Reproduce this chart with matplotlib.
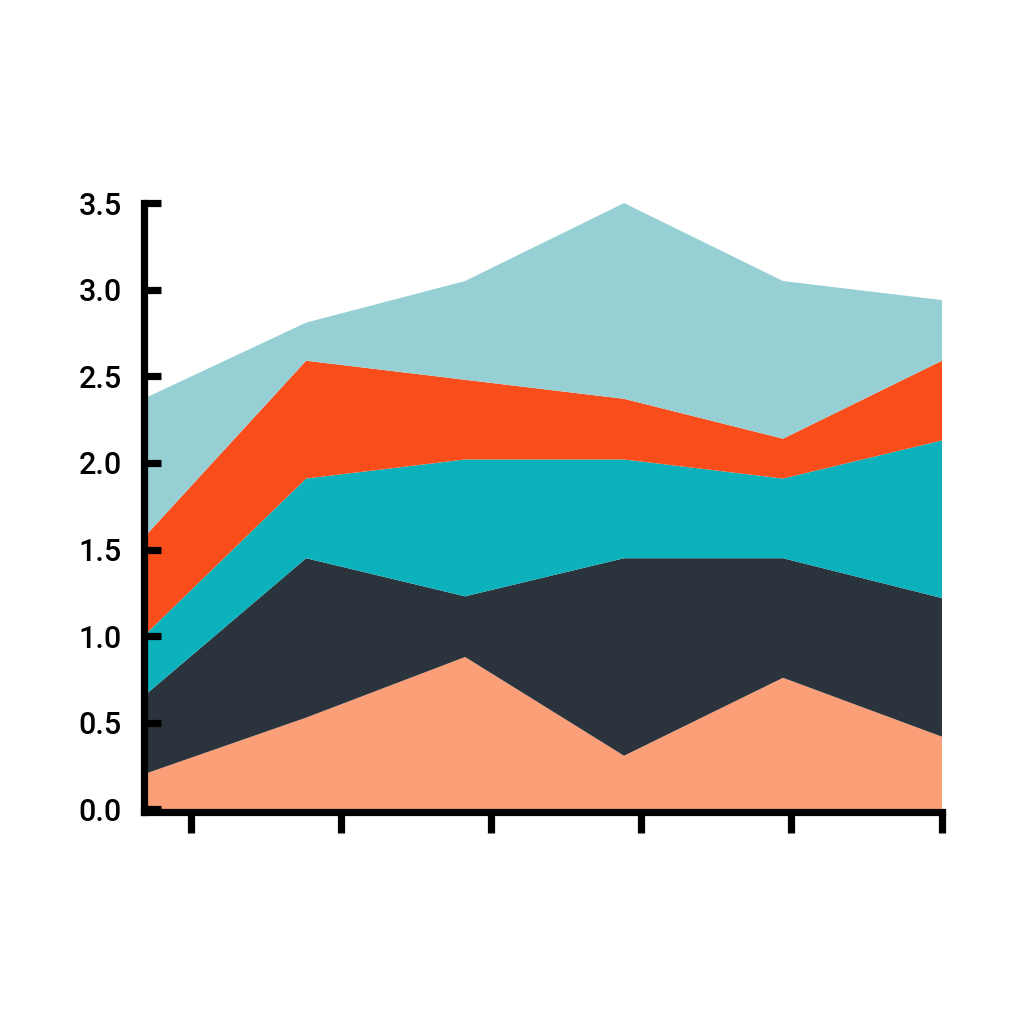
import matplotlib
matplotlib.use("Agg")
import matplotlib.pyplot as plt

# Data (stacked increments for each layer, bottom to top)
x = [0, 1, 2, 3, 4, 5]
salmon = [0.21, 0.53, 0.88, 0.31, 0.76, 0.42]
dark = [0.46, 0.92, 0.35, 1.14, 0.69, 0.80]
teal = [0.35, 0.46, 0.79, 0.57, 0.46, 0.91]
orange = [0.57, 0.68, 0.46, 0.35, 0.23, 0.46]
lightblue = [0.79, 0.22, 0.57, 1.13, 0.91, 0.35]

colors = ["#FA9F78", "#2B333C", "#0BB2BB", "#F94E1B", "#96D0D4"]

y_ticks = [0.0, 0.5, 1.0, 1.5, 2.0, 2.5, 3.0, 3.5]
y_tick_labels = ["0.0", "0.5", "1.0", "1.5", "2.0", "2.5", "3.0", "3.5"]
x_tick_positions = [0.275, 1.218, 2.16, 3.107, 4.05, 5.0]

plt.rcParams['font.family'] = ['Roboto', 'DejaVu Sans']

fig = plt.figure(figsize=(10.24, 10.24), dpi=100)
ax = fig.add_axes([0.1406, 0.2075, 0.7793, 0.5942])

ax.stackplot(x, salmon, dark, teal, orange, lightblue, colors=colors,
             linewidth=0, edgecolor='none')

ax.set_xlim(-0.02, 5)
ax.set_ylim(-0.012, 3.5)

for s in ['top', 'right']:
    ax.spines[s].set_visible(False)
for s in ['left', 'bottom']:
    ax.spines[s].set_linewidth(5.2)
    ax.spines[s].set_color('black')
    ax.spines[s].set_capstyle('projecting')

ax.set_yticks(y_ticks)
ax.set_yticklabels(y_tick_labels, fontweight='medium')
ax.set_xticks(x_tick_positions)
ax.set_xticklabels([""] * len(x_tick_positions))

ax.tick_params(axis='y', direction='in', length=12, width=5.2, pad=16,
               labelsize=22, colors='black')
ax.tick_params(axis='x', direction='out', length=15, width=5.2, colors='black')

fig.savefig("out.png", dpi=100, facecolor='white')
